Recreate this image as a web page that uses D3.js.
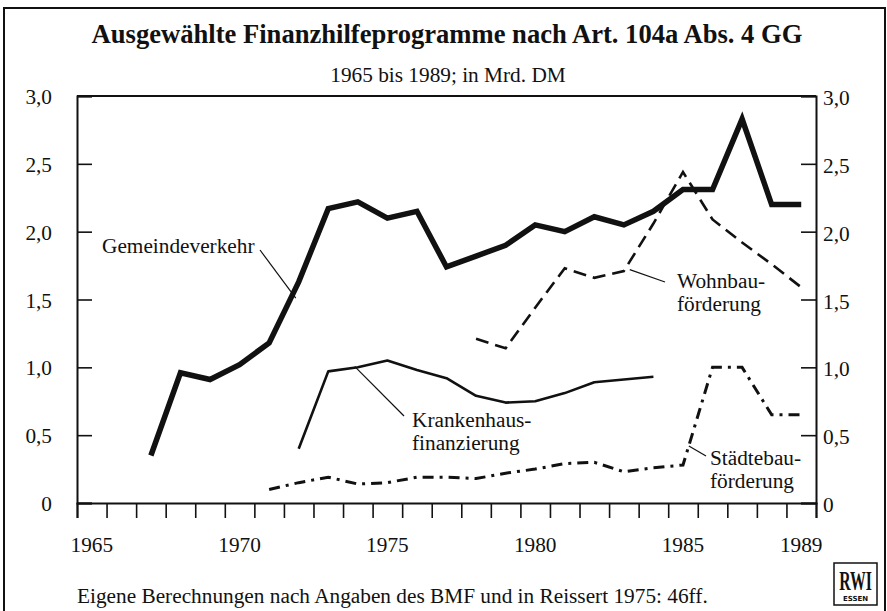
<!DOCTYPE html>
<html>
<head>
<meta charset="utf-8">
<script src="https://cdn.jsdelivr.net/npm/d3@7"></script>
<style>
  html, body { margin: 0; padding: 0; background: #fff; }
  svg { display: block; }
  text { font-family: "Liberation Serif", "Times New Roman", serif; fill: #111; }
</style>
</head>
<body>
<div id="chart"></div>
<script>
// Daten (Mrd. DM)
const gemeindeYears = [1967, 1968, 1969, 1970, 1971, 1972, 1973, 1974, 1975, 1976, 1977, 1978,
                       1979, 1980, 1981, 1982, 1983, 1984, 1985, 1986, 1987, 1988, 1989];
const gemeindeverkehr = [0.35, 0.96, 0.91, 1.02, 1.18, 1.63, 2.17, 2.22, 2.10, 2.15, 1.74, 1.82,
                         1.90, 2.05, 2.00, 2.11, 2.05, 2.15, 2.31, 2.31, 2.83, 2.20, 2.20];

const krankenYears = [1972, 1973, 1974, 1975, 1976, 1977, 1978, 1979, 1980, 1981, 1982, 1983, 1984];
const krankenhaus = [0.40, 0.97, 1.00, 1.05, 0.98, 0.92, 0.79, 0.74, 0.75, 0.81, 0.89, 0.91, 0.93];

const wohnbauYears = [1978, 1979, 1980, 1981, 1982, 1983, 1984, 1985, 1986, 1987, 1988, 1989];
const wohnbau = [1.21, 1.14, 1.44, 1.73, 1.66, 1.71, 2.06, 2.44, 2.09, 1.92, 1.76, 1.59];

const staedteYears = [1971, 1972, 1973, 1974, 1975, 1976, 1977, 1978, 1979, 1980,
                      1981, 1982, 1983, 1984, 1985, 1986, 1987, 1988, 1989];
const staedtebau = [0.10, 0.15, 0.19, 0.14, 0.15, 0.19, 0.19, 0.18, 0.22, 0.25,
                    0.29, 0.30, 0.23, 0.26, 0.28, 1.00, 1.00, 0.65, 0.65];

const yTicks = [0, 0.5, 1.0, 1.5, 2.0, 2.5, 3.0];
const xLabels = [1965, 1970, 1975, 1980, 1985, 1989];

const width = 887, height = 611;
const margin = { top: 96, right: 71, bottom: 108, left: 77 };
const w = width - margin.left - margin.right;
const h = height - margin.top - margin.bottom;
const fs = '21.3px';

const svg = d3.select('#chart').append('svg')
    .attr('width', width)
    .attr('height', height);

// Rahmen um das ganze Bild
svg.append('rect')
    .attr('x', 4).attr('y', 8)
    .attr('width', 881).attr('height', 640)
    .attr('fill', 'none')
    .attr('stroke', '#111')
    .attr('stroke-width', 2);

// Titel
svg.append('text')
    .attr('x', 447).attr('y', 43)
    .attr('text-anchor', 'middle')
    .style('font-size', '26.6px')
    .style('font-weight', 700)
    .text('Ausgewählte Finanzhilfeprogramme nach Art. 104a Abs. 4 GG');

svg.append('text')
    .attr('x', 448).attr('y', 82)
    .attr('text-anchor', 'middle')
    .style('font-size', fs)
    .text('1965 bis 1989; in Mrd. DM');

const g = svg.append('g')
    .attr('transform', `translate(${margin.left},${margin.top})`);

// Jahre als Intervalle: Werte liegen in der Mitte des Jahres
const x = d3.scaleLinear().domain([1965, 1990]).range([0, w]);
const y = d3.scaleLinear().domain([0, 3]).range([h, 0]);

// Achsen
const fmt = d => d === 0 ? '0' : d3.format('.1f')(d).replace('.', ',');

g.append('g')
    .attr('transform', `translate(0,${h})`)
    .call(d3.axisBottom(x).tickValues(d3.range(1965, 1991)).tickSize(15).tickFormat(''))
    .call(a => a.select('.domain').attr('stroke-width', 2));

g.append('g')
    .call(d3.axisLeft(y).tickValues(yTicks).tickSize(-15).tickFormat(''))
    .call(a => a.select('.domain').attr('stroke-width', 2));

g.append('g')
    .attr('transform', `translate(${w},0)`)
    .call(d3.axisRight(y).tickValues(yTicks).tickSize(-15).tickFormat(''))
    .call(a => a.select('.domain').attr('stroke-width', 2));

g.append('line')
    .attr('x1', 0).attr('x2', w)
    .attr('y1', 0).attr('y2', 0)
    .attr('stroke', '#111')
    .attr('stroke-width', 2);

g.selectAll('.tick line').attr('stroke', '#111').attr('stroke-width', 1.6);
g.selectAll('.domain').attr('stroke', '#111');

// Achsenbeschriftung
g.selectAll('.yl')
    .data(yTicks)
    .enter().append('text')
    .attr('x', -25)
    .attr('y', d => y(d) + 8)
    .attr('text-anchor', 'end')
    .style('font-size', fs)
    .text(fmt);

g.selectAll('.yr')
    .data(yTicks)
    .enter().append('text')
    .attr('x', w + 7)
    .attr('y', d => y(d) + 9)
    .attr('text-anchor', 'start')
    .style('font-size', fs)
    .text(fmt);

g.selectAll('.xl')
    .data(xLabels)
    .enter().append('text')
    .attr('x', d => x(d + 0.5))
    .attr('y', h + 49)
    .attr('text-anchor', 'middle')
    .style('font-size', fs)
    .text(d => d);

// Linien
function series(years, values) {
    return years.map((yr, i) => ({ year: yr, value: values[i] }));
}
const line = d3.line()
    .x(d => x(d.year + 0.5))
    .y(d => y(d.value));

g.append('path')
    .datum(series(staedteYears, staedtebau))
    .attr('d', line)
    .attr('fill', 'none')
    .attr('stroke', '#111')
    .attr('stroke-width', 3)
    .attr('stroke-dasharray', '11 6 3 6');

g.append('path')
    .datum(series(wohnbauYears, wohnbau))
    .attr('d', line)
    .attr('fill', 'none')
    .attr('stroke', '#111')
    .attr('stroke-width', 2.6)
    .attr('stroke-dasharray', '13 7');

g.append('path')
    .datum(series(krankenYears, krankenhaus))
    .attr('d', line)
    .attr('fill', 'none')
    .attr('stroke', '#111')
    .attr('stroke-width', 2.6)
    .attr('stroke-linejoin', 'round');

g.append('path')
    .datum(series(gemeindeYears, gemeindeverkehr))
    .attr('d', line)
    .attr('fill', 'none')
    .attr('stroke', '#111')
    .attr('stroke-width', 5.5)
    .attr('stroke-linejoin', 'miter');

// Beschriftungen mit Hinweislinien
const notes = [
    { lines: ['Gemeindeverkehr'], year: 1971.9, value: 1.51, tx: 25, ty: 157, lx1: 183, ly1: 154 },
    { lines: ['Krankenhaus-', 'finanzierung'], year: 1973.9, value: 1.005, tx: 335, ty: 331, lx1: 327, ly1: 320 },
    { lines: ['Wohnbau-', 'förderung'], year: 1983.2, value: 1.72, tx: 600, ty: 192, lx1: 588, ly1: 186 },
    { lines: ['Städtebau-', 'förderung'], year: 1985.2, value: 0.42, tx: 633, ty: 369, lx1: 629, ly1: 360 }
];

notes.forEach(n => {
    g.append('line')
        .attr('x1', n.lx1).attr('y1', n.ly1)
        .attr('x2', x(n.year + 0.5)).attr('y2', y(n.value))
        .attr('stroke', '#111')
        .attr('stroke-width', 1.2);
    const t = g.append('text')
        .attr('x', n.tx).attr('y', n.ty)
        .style('font-size', fs);
    n.lines.forEach((s, i) => {
        t.append('tspan')
            .attr('x', n.tx)
            .attr('dy', i === 0 ? 0 : 23)
            .text(s);
    });
});

// Quelle
svg.append('text')
    .attr('x', 77).attr('y', 603)
    .style('font-size', fs)
    .text('Eigene Berechnungen nach Angaben des BMF und in Reissert 1975: 46ff.');

// RWI Logo
const logo = svg.append('g').attr('transform', 'translate(834,563)');
logo.append('rect')
    .attr('width', 43).attr('height', 42)
    .attr('fill', '#fff')
    .attr('stroke', '#111')
    .attr('stroke-width', 1.5);
logo.append('text')
    .attr('transform', 'translate(21.5,27) scale(0.75,1.3)')
    .attr('text-anchor', 'middle')
    .style('font-size', '21px')
    .style('font-weight', 700)
    .text('RWI');
logo.append('text')
    .attr('x', 21.5).attr('y', 38)
    .attr('text-anchor', 'middle')
    .style('font-family', '"DejaVu Sans", sans-serif')
    .style('font-size', '7px')
    .style('font-weight', 700)
    .text('ESSEN');
</script>
</body>
</html>
